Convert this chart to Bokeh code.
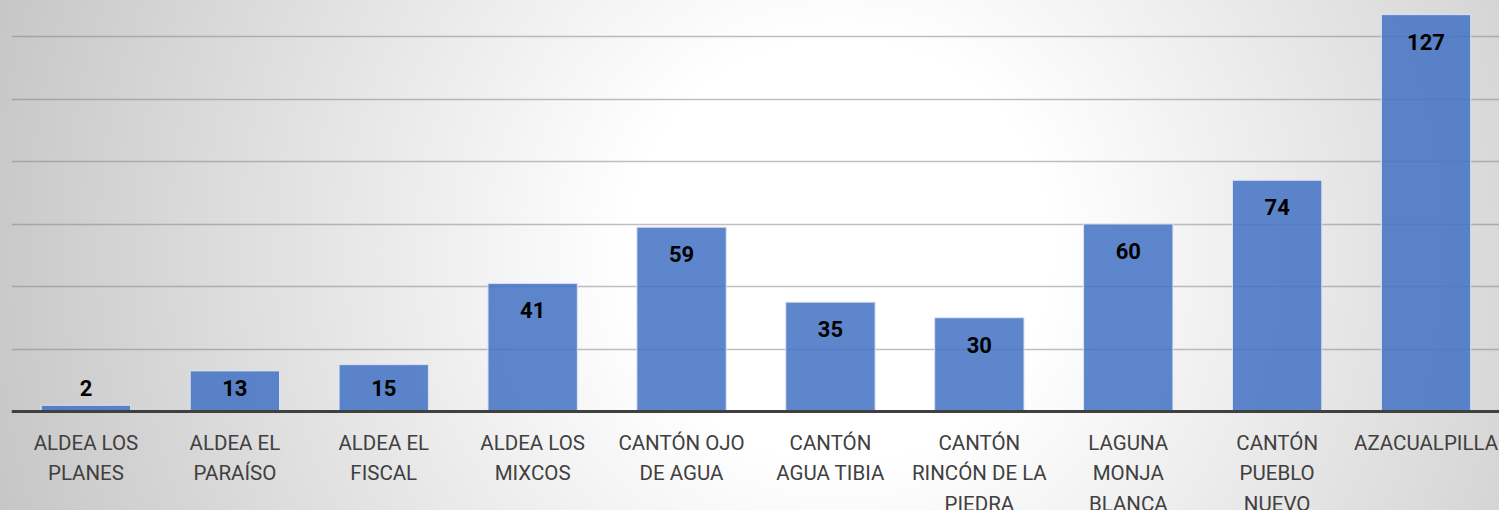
import numpy as np
from bokeh.plotting import figure
from bokeh.models import Range1d, Span, Grid, FixedTicker, ColumnDataSource
from bokeh.core.properties import value
from bokeh.embed import file_html
from bokeh.resources import INLINE

# ---- data ----
categories = [
    "ALDEA LOS\nPLANES",
    "ALDEA EL\nPARAÍSO",
    "ALDEA EL\nFISCAL",
    "ALDEA LOS\nMIXCOS",
    "CANTÓN OJO\nDE AGUA",
    "CANTÓN\nAGUA TIBIA",
    "CANTÓN\nRINCÓN DE LA\nPIEDRA",
    "LAGUNA\nMONJA\nBLANCA",
    "CANTÓN\nPUEBLO\nNUEVO",
    "AZACUALPILLA",
]
values = [2, 13, 15, 41, 59, 35, 30, 60, 74, 127]
grid_values = [20, 40, 60, 80, 100, 120]

# ---- layout ----
W, H = 1499, 510
PX_PER_UNIT = 3.125      # vertical scale (pixels per unit)
PX_PER_CAT = 148.9       # horizontal scale (pixels per category)
LEFT = 11
Y_TOP = 411 / PX_PER_UNIT
y_bottom = Y_TOP - H / PX_PER_UNIT
x_end = -0.5 + (W - LEFT) / PX_PER_CAT

x = np.arange(len(values))
vals = np.array(values, dtype=float)
label_y = np.maximum(vals - 27 / PX_PER_UNIT, 24 / PX_PER_UNIT)

src = ColumnDataSource(dict(x=x, top=vals, txt=[str(v) for v in values],
                            ly=label_y, cat=categories, zero=np.zeros(len(values))))

p = figure(width=W, height=H, output_backend="svg", toolbar_location=None,
           x_range=Range1d(-0.5, x_end), y_range=Range1d(y_bottom, Y_TOP),
           x_axis_type=None, y_axis_type=None,
           min_border_left=LEFT, min_border_right=0, min_border_top=0, min_border_bottom=0)
p.background_fill_alpha = 0
p.border_fill_alpha = 0
p.outline_line_color = None
p.styles = {"background": "radial-gradient(circle 880px at 840px 250px, #ffffff 0%, #ffffff 24%, #c6c6c6 100%)"}

grid = Grid(dimension=1, ticker=FixedTicker(ticks=grid_values),
            grid_line_color="#7f7f7f", grid_line_alpha=0.5, grid_line_width=1.5)
p.add_layout(grid)

p.vbar(x="x", top="top", bottom=0, width=0.6, source=src,
       fill_color="#4472C4", fill_alpha=0.86, line_color="#dae3f3", line_width=1)

p.add_layout(Span(location=0, dimension="width", line_color="#404040", line_width=3))

p.text(x="x", y="ly", text="txt", source=src, text_align="center", text_baseline="middle",
       text_font=value("Roboto"), text_font_style="bold", text_font_size="22px",
       text_color="#000000")

p.text(x="x", y="zero", text="cat", source=src, text_align="center", text_baseline="top",
       y_offset=19, text_font=value("Roboto"), text_font_size="20.5px",
       text_color="#404040", text_line_height=1.29)

open("out.html", "w").write(file_html(p, INLINE))
